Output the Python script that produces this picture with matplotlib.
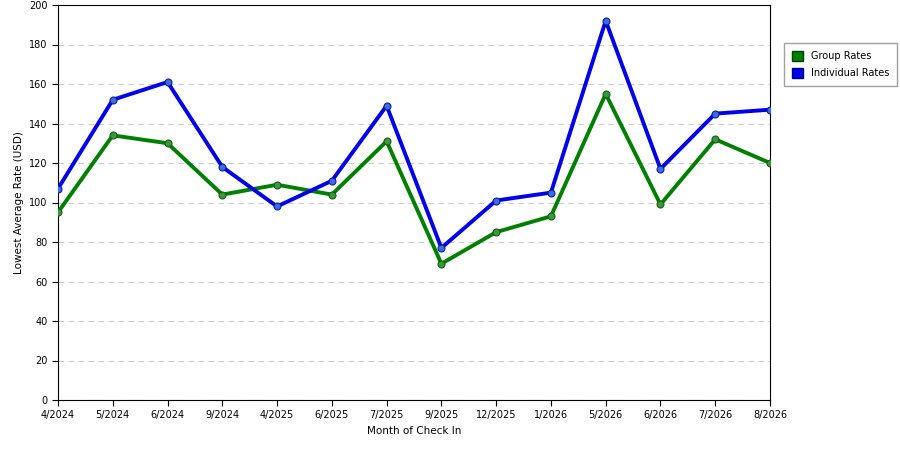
import matplotlib
matplotlib.use("Agg")
import matplotlib.pyplot as plt
from matplotlib.patches import Patch

months = ["4/2024","5/2024","6/2024","9/2024","4/2025","6/2025","7/2025","9/2025",
          "12/2025","1/2026","5/2026","6/2026","7/2026","8/2026"]
group_rates = [95,134,130,104,109,104,131,69,85,93,155,99,132,120]
individual_rates = [107,152,161,118,98,111,149,77,101,105,192,117,145,147]

fig = plt.figure(figsize=(9,4.5), dpi=100)
ax = fig.add_axes([58/900, 50/450, 712/900, 395/450])
x = list(range(len(months)))
ax.plot(x, group_rates, color="#008000", lw=2.8, marker="o", ms=5,
        mfc="#3a9a3a", mec="#1a5a1a", mew=0.8, zorder=3)
ax.plot(x, individual_rates, color="#0000ee", lw=2.8, marker="o", ms=5,
        mfc="#3a6aee", mec="#10208a", mew=0.8, zorder=3)
ax.set_xlim(0, len(months)-1)
ax.set_ylim(0, 200)
ax.set_yticks(range(0,201,20))
ax.set_xticks(x)
ax.set_xticklabels(months)
ax.tick_params(labelsize=7, length=4)
ax.yaxis.grid(True, color="#cccccc", ls=(0,(5,4)), lw=0.8)
ax.set_axisbelow(True)
ax.set_xlabel("Month of Check In", fontsize=7.5)
ax.set_ylabel("Lowest Average Rate (USD)", fontsize=7.5)
for s in ax.spines.values():
    s.set_linewidth(0.8)
handles = [Patch(facecolor="#008000", edgecolor="#004000", label="Group Rates"),
           Patch(facecolor="#0000ee", edgecolor="#000080", label="Individual Rates")]
fig.legend(handles=handles, loc="upper left", bbox_to_anchor=(779/900, 1-38/450),
           fontsize=7, frameon=True, fancybox=False, edgecolor="#888888",
           handlelength=1.2, handleheight=1.2, borderpad=0.8, labelspacing=0.7)
fig.savefig("out.png", dpi=100)
